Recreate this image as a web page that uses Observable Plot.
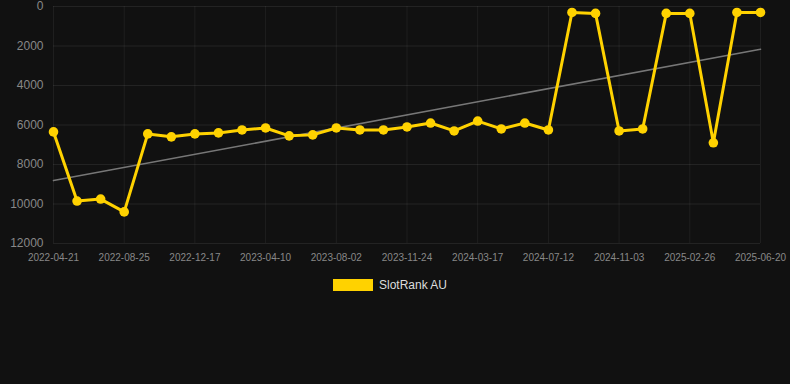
<!DOCTYPE html>
<html>
<head>
<meta charset="utf-8">
<script src="https://cdn.jsdelivr.net/npm/d3@7"></script>
<script src="https://cdn.jsdelivr.net/npm/@observablehq/plot@0.6"></script>
<style>
  html, body { margin: 0; padding: 0; background: #111111; width: 790px; height: 384px; overflow: hidden; }
  body { font-family: Arial, "Liberation Sans", Helvetica, sans-serif; }
  #legend { display: flex; justify-content: center; align-items: center; height: 20px; margin-top: 5px; padding-right: 10px; color: #dddddd; font-size: 12px; }
  #legend .sw { width: 40px; height: 12px; background: #ffd200; margin-right: 6px; }
</style>
</head>
<body>
<div id="chart"></div>
<div id="legend"><span class="sw"></span><span>SlotRank AU</span></div>
<script>
const dates = [
  "2022-04-21", "2022-06-02", "2022-07-14", "2022-08-25", "2022-10-02", "2022-11-09",
  "2022-12-17", "2023-01-24", "2023-03-03", "2023-04-10", "2023-05-18", "2023-06-25",
  "2023-08-02", "2023-09-09", "2023-10-17", "2023-11-24", "2024-01-01", "2024-02-08",
  "2024-03-17", "2024-04-25", "2024-06-03", "2024-07-12", "2024-08-19", "2024-09-26",
  "2024-11-03", "2024-12-11", "2025-01-19", "2025-02-26", "2025-04-05", "2025-05-13",
  "2025-06-20"
];
const ranks = [
  6350, 9850, 9750, 10400, 6450, 6600,
  6450, 6400, 6250, 6150, 6550, 6500,
  6150, 6250, 6250, 6100, 5900, 6300,
  5800, 6200, 5900, 6250, 300, 350,
  6300, 6200, 350, 350, 6900, 300,
  300
];
const xTickIndex = [0, 3, 6, 9, 12, 15, 18, 21, 24, 27, 30];
const yTicks = [0, 2000, 4000, 6000, 8000, 10000, 12000];
const seriesName = "SlotRank AU";

const data = ranks.map((v, i) => ({i, date: dates[i], v}));

const chart = Plot.plot({
  width: 790,
  height: 270,
  marginLeft: 53,
  marginRight: 30,
  marginTop: 6,
  marginBottom: 27,
  style: {background: "#111111", color: "#888888", fontFamily: "Arial, 'Liberation Sans', Helvetica, sans-serif", fontSize: "10px"},
  x: {type: "linear", domain: [0, dates.length - 1]},
  y: {domain: [0, 12000], reverse: true},
  marks: [
    Plot.gridY(yTicks, {stroke: "#ffffff", strokeOpacity: 0.08}),
    Plot.gridX(xTickIndex, {stroke: "#ffffff", strokeOpacity: 0.06}),
    Plot.axisY(yTicks, {tickSize: 0, tickPadding: 10, fontSize: 12, label: null, fill: "#888888", tickFormat: d => String(d)}),
    Plot.axisX(xTickIndex, {tickSize: 0, tickPadding: 10, fontSize: 10, label: null, tickFormat: i => dates[i], fill: "#888888"}),
    Plot.linearRegressionY(data, {x: "i", y: "v", stroke: "#777777", strokeWidth: 1.6, ci: 0}),
    Plot.line(data, {x: "i", y: "v", stroke: "#ffd200", strokeWidth: 3}),
    Plot.dot(data, {x: "i", y: "v", r: 4.8, fill: "#ffd200", title: d => `${d.date}: ${d.v}`})
  ]
});
document.getElementById("chart").appendChild(chart);
document.querySelector("#legend span:last-child").textContent = seriesName;
</script>
</body>
</html>
